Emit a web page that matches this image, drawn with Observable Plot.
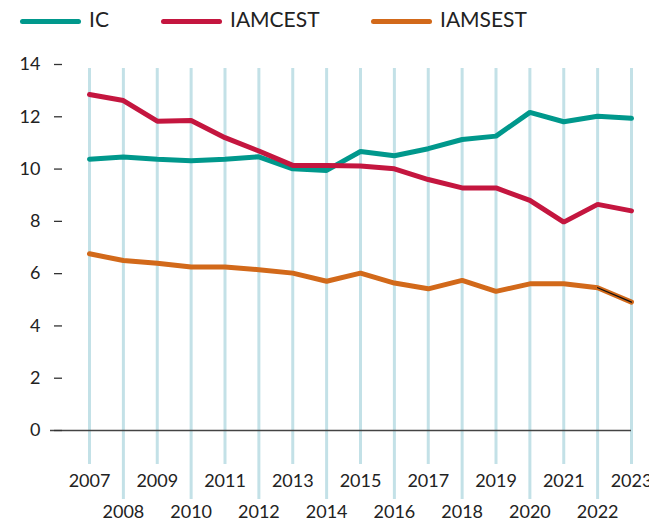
<!DOCTYPE html>
<html>
<head>
<meta charset="utf-8">
<script src="https://cdn.jsdelivr.net/npm/d3@7"></script>
<script src="https://cdn.jsdelivr.net/npm/@observablehq/plot@0.6"></script>
<style>
  html, body { margin: 0; padding: 0; background: #fff; }
  body { width: 649px; height: 527px; overflow: hidden; font-family: Lato, "Liberation Sans", sans-serif; }
  #legend { height: 40px; position: relative; }
  .item { position: absolute; top: 6px; display: flex; align-items: center; font-size: 21px; color: #222; }
  .sw { width: 61px; height: 5px; border-radius: 3px; margin-right: 8px; margin-top: 6px; }
</style>
</head>
<body>
<div id="legend"></div>
<div id="chart"></div>
<script>
const years = [2007,2008,2009,2010,2011,2012,2013,2014,2015,2016,2017,2018,2019,2020,2021,2022,2023];
const icValues      = [10.38,10.46,10.38,10.32,10.38,10.47,10.01,9.95,10.67,10.51,10.78,11.13,11.26,12.17,11.81,12.02,11.94];
const iamcestValues = [12.85,12.62,11.83,11.86,11.2,10.69,10.14,10.14,10.12,10.01,9.6,9.28,9.28,8.8,7.97,8.65,8.4];
const iamsestValues = [6.76,6.5,6.4,6.25,6.25,6.15,6.02,5.71,6.02,5.64,5.42,5.74,5.32,5.61,5.61,5.46,4.91];
const seriesNames = ["IC", "IAMCEST", "IAMSEST"];
const seriesColors = ["#00988c", "#c4163f", "#d2691a"];
const yTicks = [0,2,4,6,8,10,12,14];

// legend
const legend = document.getElementById("legend");
const legendLeft = [20, 161, 371];
seriesNames.forEach((n, i) => {
  const it = document.createElement("div");
  it.className = "item";
  it.style.left = legendLeft[i] + "px";
  it.innerHTML = `<div class="sw" style="background:${seriesColors[i]}"></div><span>${n}</span>`;
  legend.appendChild(it);
});

const seriesData = [icValues, iamcestValues, iamsestValues];
const rows = [];
seriesNames.forEach((n, i) => years.forEach((yr, j) => rows.push({series: n, year: yr, value: seriesData[i][j]})));
const lastSeg = years.slice(-2).map((yr, j) => ({year: yr, value: iamsestValues.slice(-2)[j]}));

const oddYears = years.filter(y => y % 2 === 1);
const evenYears = years.filter(y => y % 2 === 0);

const chart = Plot.plot({
  width: 649,
  height: 487,
  marginLeft: 89,
  marginRight: 18,
  marginTop: 24,
  marginBottom: 97,
  style: {fontFamily: "Lato, 'Liberation Sans', sans-serif", fontSize: "18px", color: "#222", background: "#fff"},
  x: {domain: [2007, 2023], axis: null},
  y: {domain: [0, 14], axis: null},
  color: {domain: seriesNames, range: seriesColors},
  marks: [
    Plot.ruleX(oddYears, {x: d => d, y1: 13.85, y2: -1.3, stroke: "#c3e1e7", strokeWidth: 3}),
    Plot.ruleX(evenYears, {x: d => d, y1: 13.85, y2: -2.64, stroke: "#c3e1e7", strokeWidth: 3}),
    Plot.ruleY([0], {stroke: "#444", strokeWidth: 1.5, insetLeft: -39}),
    Plot.axisY({ticks: yTicks, label: null, tickSize: 8, tickPadding: 14, dx: -27, stroke: "#333", strokeWidth: 1.3, fontSize: 18, fill: "#222", tickFormat: d => d}),
    Plot.text(oddYears, {x: d => d, text: d => String(d), frameAnchor: "bottom", dy: 56, fontSize: 18, fill: "#222"}),
    Plot.text(evenYears, {x: d => d, text: d => String(d), frameAnchor: "bottom", dy: 87, fontSize: 18, fill: "#222"}),
    Plot.line(rows, {x: "year", y: "value", z: "series", stroke: "series", strokeWidth: 5, strokeLinecap: "round", strokeLinejoin: "miter"}),
    Plot.line(lastSeg, {x: "year", y: "value", stroke: "#111", strokeWidth: 1.3})
  ]
});
document.getElementById("chart").appendChild(chart);
</script>
</body>
</html>
